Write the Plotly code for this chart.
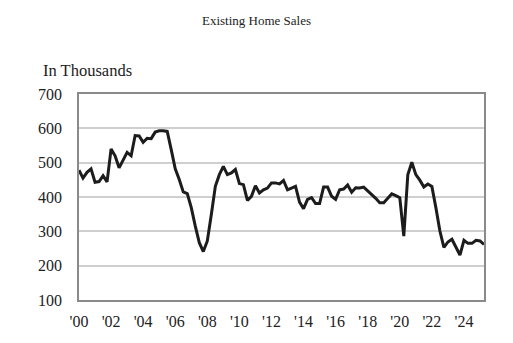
import plotly.graph_objects as go

start_year = 2000
# Quarterly existing home sales (in thousands), 2000Q1 .. 2025Q2
sales = [
    478, 455, 472, 482, 443, 445, 462, 444, 540, 520, 485, 509, 530, 520, 579, 578,
    559, 571, 570, 589, 593, 593, 591, 538, 482, 451, 415, 410, 369, 315, 267, 241,
    272, 349, 431, 465, 489, 465, 470, 480, 439, 436, 390, 402, 433, 412, 421, 426,
    441, 441, 438, 448,
    421, 426, 431, 385, 366, 393, 398, 381, 381, 429, 429, 402, 393, 421, 423, 435,
    414, 427, 426, 429, 418, 410, 396, 383, 383, 396, 409, 404, 398, 286, 465, 501,
    465, 449, 429, 438, 431, 369, 301, 253, 269, 277, 253, 231, 274, 265, 265, 274,
    272, 262,
]
periods = [start_year + i / 4 for i in range(len(sales))]

tick_years = list(range(2000, 2025, 2))
tick_text = ["'" + str(y)[2:] for y in tick_years]
y_ticks = [100, 200, 300, 400, 500, 600, 700]

font_family = "Liberation Serif"

fig = go.Figure()
fig.add_trace(go.Scatter(
    x=periods, y=sales, mode="lines",
    line=dict(color="#1c1c1c", width=3),
    hoverinfo="skip", showlegend=False,
))

fig.update_layout(
    width=513, height=343,
    margin=dict(l=79, r=29, t=94, b=43),
    paper_bgcolor="white", plot_bgcolor="white",
    font=dict(family=font_family, color="#222222", size=16),
    title=dict(text="Existing Home Sales", x=0.5, xanchor="center",
               y=1 - 20 / 343, yanchor="middle",
               font=dict(family=font_family, size=13, color="#222222")),
    annotations=[dict(text="In Thousands", xref="paper", yref="paper",
                      x=(41 - 79) / 405, xanchor="left",
                      y=1 + (94 - 70) / 206, yanchor="middle",
                      showarrow=False,
                      font=dict(family=font_family, size=16.5, color="#222222"))],
)
fig.update_xaxes(
    range=[periods[0], periods[-1]],
    tickvals=tick_years, ticktext=tick_text,
    showgrid=False, zeroline=False,
    showline=True, linecolor="#8a8a8a", linewidth=1.5, mirror=True,
    ticks="", ticklabelstandoff=6,
    tickfont=dict(family=font_family, size=16),
)
fig.update_yaxes(
    range=[100, 700], tickvals=y_ticks,
    showgrid=True, gridcolor="#cfcfcf", gridwidth=1.5, zeroline=False,
    showline=True, linecolor="#8a8a8a", linewidth=1.5, mirror=True,
    ticks="", ticklabelstandoff=12,
    tickfont=dict(family=font_family, size=16),
)

fig.write_html("out.html")
